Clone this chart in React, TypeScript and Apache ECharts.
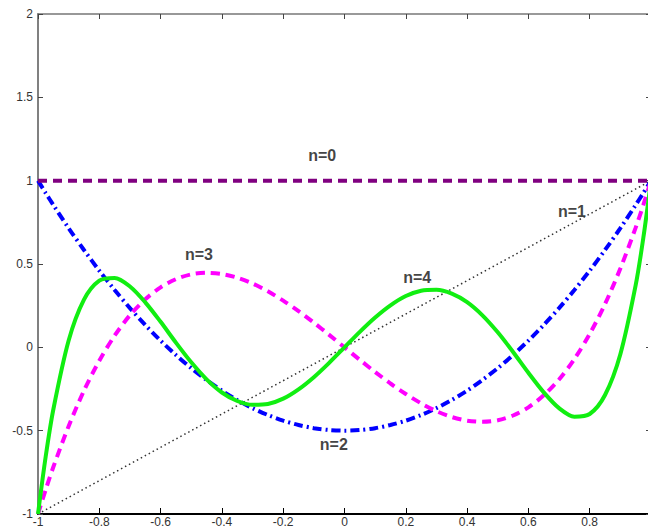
import React, { useEffect, useRef } from "react";
import * as echarts from "echarts";

const xs = [
  -1, -0.975, -0.95, -0.9, -0.85, -0.8, -0.75, -0.7, -0.65, -0.6, -0.55, -0.5, -0.45, -0.4, -0.35, -0.3, -0.25, -0.2, -0.15, -0.1, -0.05,
  0, 0.05, 0.1, 0.15, 0.2, 0.25, 0.3, 0.35, 0.4, 0.45, 0.5, 0.55, 0.6, 0.65, 0.7, 0.75, 0.8, 0.85, 0.9, 0.95, 0.975, 1,
];
const p0X = [-1, 1];
const p0Y = [1, 1];
const p1X = [-1, 1];
const p1Y = [-1, 1];
const p2Y = [
  1, 0.926, 0.854, 0.715, 0.584, 0.46, 0.344, 0.235, 0.134, 0.04, -0.046, -0.125, -0.196, -0.26, -0.316, -0.365, -0.406, -0.44, -0.466, -0.485, -0.496,
  -0.5, -0.496, -0.485, -0.466, -0.44, -0.406, -0.365, -0.316, -0.26, -0.196, -0.125, -0.046, 0.04, 0.134, 0.235, 0.344, 0.46, 0.584, 0.715, 0.854, 0.926, 1,
];
const p3Y = [
  -1, -0.855, -0.718, -0.473, -0.26, -0.08, 0.07, 0.193, 0.288, 0.36, 0.409, 0.438, 0.447, 0.44, 0.418, 0.383, 0.336, 0.28, 0.217, 0.148, 0.075,
  0, -0.075, -0.148, -0.217, -0.28, -0.336, -0.383, -0.418, -0.44, -0.447, -0.438, -0.409, -0.36, -0.288, -0.193, -0.07, 0.08, 0.26, 0.473, 0.718, 0.855, 1,
];
const p4Y = [
  -1, -0.657, -0.373, 0.041, 0.286, 0.4, 0.416, 0.365, 0.27, 0.153, 0.028, -0.09, -0.192, -0.271, -0.322, -0.345, -0.34, -0.308, -0.252, -0.179, -0.093,
  0, 0.093, 0.179, 0.252, 0.308, 0.34, 0.345, 0.322, 0.271, 0.192, 0.09, -0.028, -0.153, -0.27, -0.365, -0.416, -0.4, -0.286, -0.041, 0.373, 0.657, 1,
];

const labelNames = ["n=0", "n=1", "n=2", "n=3", "n=4"];
const labelX = [-0.073, 0.742, -0.035, -0.475, 0.237];
const labelY = [1.15, 0.816, -0.58, 0.558, 0.42];

const zip = (a: number[], b: number[]) => a.map((v, i) => [v, b[i]]);

export default function App() {
  const ref = useRef<HTMLDivElement>(null);
  useEffect(() => {
    document.body.style.margin = "0";
    const chart = echarts.init(ref.current!, null, { renderer: "svg" });
    const font = "Liberation Sans, Arial, sans-serif";
    const axisLabel = { color: "#333", fontSize: 12, fontFamily: font };
    chart.setOption({
      animation: false,
      backgroundColor: "#fff",
      grid: { left: 38, top: 14, width: 613, height: 500, outerBoundsMode: "none", containLabel: false },
      xAxis: [
        {
          type: "value", min: -1, max: 1, interval: 0.2, position: "bottom",
          axisLine: { show: true, onZero: false, lineStyle: { color: "#000", width: 2 } },
          axisTick: { show: true, inside: true, length: 6, lineStyle: { color: "#000", width: 1 } },
          axisLabel: { ...axisLabel, margin: 2, lineHeight: 12, showMaxLabel: false },
          splitLine: { show: false },
        },
        {
          type: "value", min: -1, max: 1, interval: 0.2, position: "top",
          axisLine: { show: true, onZero: false, lineStyle: { color: "#777", width: 1.5 } },
          axisTick: { show: true, inside: true, length: 5, lineStyle: { color: "#444", width: 1 } },
          axisLabel: { show: false },
          splitLine: { show: false },
        },
      ],
      yAxis: [
        {
          type: "value", min: -1, max: 2, interval: 0.5, position: "left",
          axisLine: { show: true, onZero: false, lineStyle: { color: "#808080", width: 2 } },
          axisTick: { show: true, inside: true, length: 5, lineStyle: { color: "#444", width: 1 } },
          axisLabel: { ...axisLabel, margin: 5 },
          splitLine: { show: false },
        },
        {
          type: "value", min: -1, max: 2, interval: 0.5, position: "right",
          axisLine: { show: true, onZero: false, lineStyle: { color: "#777", width: 1.5 } },
          axisTick: { show: true, inside: true, length: 5, lineStyle: { color: "#444", width: 1 } },
          axisLabel: { show: false },
          splitLine: { show: false },
        },
      ],
      series: [
        {
          type: "line", data: zip(p1X, p1Y), showSymbol: false,
          lineStyle: { color: "#333", width: 1.5, type: [1.5, 3] },
        },
        {
          type: "line", data: zip(xs, p2Y), showSymbol: false, smooth: 0.3,
          lineStyle: { color: "#0000ff", width: 4, type: [9, 4, 2, 4] },
        },
        {
          type: "line", data: zip(xs, p3Y), showSymbol: false, smooth: 0.3,
          lineStyle: { color: "#ff00ff", width: 4, type: [9, 6] },
        },
        {
          type: "line", data: zip(p0X, p0Y), showSymbol: false,
          lineStyle: { color: "#800080", width: 4, type: [9, 6] },
        },
        {
          type: "line", data: zip(xs, p4Y), showSymbol: false, smooth: 0.3,
          lineStyle: { color: "#11ee11", width: 4 },
        },
        {
          type: "scatter", data: zip(labelX, labelY), symbolSize: 0, silent: true,
          label: {
            show: true, position: "inside",
            formatter: (p: any) => labelNames[p.dataIndex],
            color: "#111", fontSize: 16, fontWeight: "bold", fontFamily: font,
          },
        },
      ],
    });
    return () => chart.dispose();
  }, []);
  return <div ref={ref} style={{ width: 648, height: 530 }} />;
}
